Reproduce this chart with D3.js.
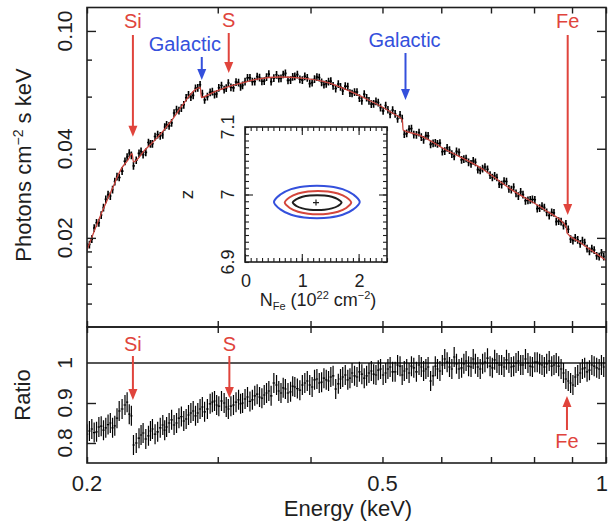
<!DOCTYPE html>
<html>
<head>
<meta charset="utf-8">
<script src="https://cdn.jsdelivr.net/npm/d3@7"></script>
<style>
  html, body { margin: 0; padding: 0; background: #fff; }
  svg { display: block; font-family: "Liberation Sans", Arial, Helvetica, sans-serif; }
</style>
</head>
<body>
<svg id="chart" width="608" height="524"></svg>
<script>
// ---------- spectrum bins (keV) ----------
const energy = [
  0.200,0.2015,0.203,0.2045,0.206,0.2075,0.209,0.2105,0.212,0.2135,
  0.215,0.2165,0.218,0.2195,0.221,0.223,0.225,0.2265,0.228,0.2295,
  0.231,0.233,0.235,0.2365,0.238,0.240,0.242,0.2435,0.245,0.247,
  0.249,0.251,0.253,0.2545,0.256,0.258,0.260,0.262,0.264,0.266,
  0.268,0.270,0.272,0.274,0.276,0.278,0.280,0.282,0.284,0.286,
  0.288,0.2905,0.293,0.295,0.297,0.299,0.301,0.3035,0.306,0.308,
  0.310,0.3125,0.315,0.3175,0.320,0.322,0.324,0.3265,0.329,0.3315,
  0.334,0.3365,0.339,0.3415,0.344,0.3465,0.349,0.3515,0.354,0.357,
  0.360,0.3625,0.365,0.3675,0.370,0.373,0.376,0.3785,0.381,0.384,
  0.387,0.390,0.393,0.396,0.399,0.402,0.405,0.408,0.411,0.414,
  0.417,0.420,0.423,0.426,0.429,0.4325,0.436,0.439,0.442,0.4455,
  0.449,0.452,0.455,0.4585,0.462,0.4655,0.469,0.4725,0.476,0.4795,
  0.483,0.4865,0.490,0.4935,0.497,0.501,0.505,0.5085,0.512,0.516,
  0.520,0.524,0.528,0.5315,0.535,0.539,0.543,0.547,0.551,0.5555,
  0.560,0.564,0.568,0.572,0.576,0.5805,0.585,0.589,0.593,0.5975,
  0.602,0.6065,0.611,0.6155,0.620,0.6245,0.629,0.634,0.639,0.6435,
  0.648,0.653,0.658,0.6625,0.667,0.672,0.677,0.682,0.687,0.6925,
  0.698,0.703,0.708,0.713,0.718,0.7235,0.729,0.7345,0.740,0.7455,
  0.751,0.7565,0.762,0.7675,0.773,0.779,0.785,0.7905,0.796,0.802,
  0.808,0.814,0.820,0.826,0.832,0.8385,0.845,0.851,0.857,0.8635,
  0.870,0.8765,0.883,0.8895,0.896,0.9025,0.909,0.916,0.923,0.9295,
  0.936,0.943,0.950,0.957,0.964,0.9715,0.979,0.986,0.993
];
// observed flux, photons cm^-2 s^-1 keV^-1
const flux = [
  0.0187,0.0190,0.0198,0.0216,0.0225,0.0225,0.0239,0.0253,0.0270,0.0280,
  0.0277,0.0291,0.0310,0.0322,0.0320,0.0336,0.0363,0.0375,0.0387,0.0380,
  0.0350,0.0366,0.0386,0.0392,0.0382,0.0389,0.0420,0.0416,0.0416,0.0440,
  0.0447,0.0442,0.0446,0.0474,0.0482,0.0478,0.0489,0.0528,0.0543,0.0538,
  0.0549,0.0563,0.0595,0.0609,0.0598,0.0606,0.0640,0.0643,0.0658,0.0614,
  0.0585,0.0600,0.0620,0.0624,0.0610,0.0613,0.0643,0.0654,0.0634,0.0641,
  0.0667,0.0645,0.0642,0.0672,0.0669,0.0648,0.0655,0.0674,0.0694,0.0695,
  0.0674,0.0675,0.0702,0.0696,0.0676,0.0677,0.0699,0.0715,0.0674,0.0693,
  0.0711,0.0691,0.0692,0.0713,0.0719,0.0681,0.0683,0.0700,0.0703,0.0712,
  0.0687,0.0682,0.0703,0.0694,0.0664,0.0669,0.0688,0.0699,0.0696,0.0671,
  0.0659,0.0663,0.0675,0.0677,0.0653,0.0639,0.0662,0.0648,0.0627,0.0651,
  0.0649,0.0617,0.0615,0.0622,0.0622,0.0593,0.0581,0.0612,0.0595,0.0581,
  0.0566,0.0567,0.0578,0.0573,0.0551,0.0537,0.0560,0.0542,0.0523,0.0540,
  0.0525,0.0505,0.0521,0.0506,0.0448,0.0451,0.0466,0.0468,0.0447,0.0446,
  0.0454,0.0438,0.0429,0.0443,0.0442,0.0414,0.0417,0.0419,0.0416,0.0418,
  0.0391,0.0393,0.0403,0.0396,0.0384,0.0377,0.0392,0.0389,0.0367,0.0369,
  0.0371,0.0360,0.0356,0.0364,0.0360,0.0340,0.0338,0.0343,0.0347,0.0341,
  0.0326,0.0320,0.0324,0.0320,0.0304,0.0303,0.0311,0.0310,0.0293,0.0291,
  0.0297,0.0283,0.0277,0.0286,0.0280,0.0267,0.0268,0.0269,0.0270,0.0269,
  0.0251,0.0252,0.0256,0.0253,0.0244,0.0238,0.0244,0.0243,0.0227,0.0228,
  0.0227,0.0220,0.0223,0.0214,0.0198,0.0196,0.0200,0.0197,0.0191,0.0196,
  0.0193,0.0184,0.0180,0.0184,0.0182,0.0174,0.0173,0.0178,0.0173
];
const fluxErrFrac = 0.03;
// data / continuum ratio
const ratio = [
  0.822,0.830,0.835,0.826,0.828,0.840,0.842,0.832,0.838,0.846,
  0.850,0.838,0.843,0.862,0.880,0.885,0.895,0.902,0.872,0.868,
  0.795,0.800,0.812,0.820,0.825,0.810,0.818,0.830,0.835,0.822,
  0.828,0.838,0.845,0.832,0.840,0.850,0.858,0.845,0.850,0.862,
  0.866,0.855,0.860,0.870,0.875,0.880,0.868,0.875,0.885,0.890,
  0.878,0.885,0.898,0.902,0.905,0.895,0.892,0.905,0.900,0.890,
  0.885,0.892,0.895,0.902,0.908,0.898,0.900,0.910,0.915,0.904,
  0.908,0.918,0.922,0.915,0.912,0.920,0.925,0.930,0.918,0.950,
  0.945,0.930,0.925,0.938,0.935,0.925,0.928,0.942,0.940,0.936,
  0.932,0.945,0.950,0.955,0.945,0.940,0.958,0.960,0.950,0.952,
  0.962,0.958,0.955,0.965,0.968,0.935,0.948,0.960,0.965,0.970,
  0.958,0.962,0.975,0.968,0.965,0.978,0.972,0.962,0.968,0.975,
  0.980,0.972,0.970,0.982,0.985,0.970,0.975,0.985,0.990,0.978,
  0.978,0.995,0.992,0.970,0.980,0.985,0.975,0.992,0.988,0.978,
  0.995,0.990,0.980,0.985,0.990,0.955,0.968,0.992,0.985,0.980,
  0.995,1.010,1.002,0.990,0.985,1.015,0.998,0.985,0.988,0.998,
  1.005,0.992,0.990,1.010,0.998,0.990,0.985,0.998,1.002,1.012,
  0.992,0.988,1.008,1.000,0.995,0.995,0.990,1.008,1.000,0.990,
  0.992,1.000,1.005,0.995,0.995,1.010,1.000,0.992,0.990,1.002,
  1.002,0.998,0.995,0.990,0.998,1.005,0.992,0.995,1.000,0.992,
  0.985,0.975,0.960,0.955,0.950,0.945,0.965,0.970,0.975,0.985,
  0.988,0.978,0.982,0.995,0.992,0.988,0.985,0.995,0.990
];
const ratioErr = 0.025;

// best-fit absorbed model
const modelEnergy = [0.200,0.2093,0.2159,0.2227,0.2270,0.2300,0.2310,0.2393,0.2491,0.2602,
  0.2709,0.2794,0.2842,0.2852,0.2945,0.3094,0.3231,0.3395,0.3635,0.3867,0.4243,0.4699,
  0.5156,0.5318,0.5330,0.5606,0.6094,0.6750,0.7476,0.8305,0.884,0.886,0.9198,1.000];
const modelFlux = [0.0182,0.0243,0.0290,0.0344,0.0366,0.0385,0.0361,0.0396,0.0438,0.0500,
  0.0576,0.0632,0.0645,0.0596,0.0617,0.0647,0.0667,0.0688,0.0699,0.0694,0.0667,0.0598,
  0.0528,0.0500,0.0463,0.0445,0.0396,0.0347,0.0290,0.0247,0.0218,0.0208,0.0194,0.0168];

// ---------- axes ----------
const energyTicks = [0.2,0.3,0.4,0.5,0.6,0.7,0.8,0.9,1];
const energyLabels = [0.2,0.5,1];
const fluxMinorTicks = [0.012,0.014,0.016,0.018,0.06,0.08];
const fluxMajorTicks = [0.02,0.04,0.1];
const fluxLabels = ["0.02","0.04","0.10"];
const ratioTicks = [0.8,0.9];
const ratioLabels = [0.8,0.9,1];

// ---------- line features ----------
const topFeatures = [
  {name:"Si", energy:0.2306, tip:0.0439, kind:"redshifted"},
  {name:"Galactic", energy:0.2855, tip:0.0683, kind:"galactic"},
  {name:"S", energy:0.3104, tip:0.0721, kind:"redshifted"},
  {name:"Galactic", energy:0.537, tip:0.0585, kind:"galactic"},
  {name:"Fe", energy:0.888, tip:0.0239, kind:"redshifted"}
];
const ratioFeatures = [
  {name:"Si", energy:0.2306, tip:0.9075, dir:"down"},
  {name:"S", energy:0.3110, tip:0.9125, dir:"down"},
  {name:"Fe", energy:0.886, tip:0.9175, dir:"up"}
];

// ---------- inset: N_Fe vs z confidence contours ----------
const contourBlue = [[0.51,6.989],[0.623,7.000],[0.812,7.008],[1.039,7.012],[1.265,7.013],[1.492,7.012],
  [1.718,7.008],[1.907,7.000],[2.02,6.989],[1.907,6.978],[1.718,6.970],[1.492,6.966],[1.265,6.965],
  [1.039,6.966],[0.812,6.970],[0.623,6.978]];
const contourRed = [[0.70,6.988],[0.788,6.996],[0.934,7.0015],[1.110,7.0044],[1.285,7.0053],[1.461,7.0044],
  [1.636,7.0015],[1.782,6.996],[1.87,6.988],[1.782,6.980],[1.636,6.9745],[1.461,6.9716],[1.285,6.9707],
  [1.110,6.9716],[0.934,6.9745],[0.788,6.980]];
const contourBlack = [[0.84,6.988],[0.905,6.993],[1.012,6.9966],[1.141,6.9985],[1.27,6.999],[1.399,6.9985],
  [1.528,6.9966],[1.636,6.993],[1.70,6.988],[1.636,6.983],[1.528,6.9794],[1.399,6.9775],[1.27,6.977],
  [1.141,6.9775],[1.012,6.9794],[0.905,6.983]];
const bestFit = [1.25, 6.988];
const insetXLabels = [0,1,2];
const insetYLabels = [6.9,7,7.1];

// ---------- drawing ----------
const RED = "#e0443c", BLUE = "#3450dc", INK = "#1e1e1e";
const svg = d3.select("#chart");
const L = 87, R = 606, T = 7.5, M = 327, B = 463;

const x = d3.scaleLog().domain([0.2, 1]).range([L, R]);
const yF = d3.scaleLog().domain([0.01, 0.12]).range([M, T]);
const yR = d3.scaleLinear().domain([0.75, 1.09]).range([B, M]);

const defs = svg.append("defs");
defs.append("clipPath").attr("id","clipTop").append("rect")
  .attr("x",L).attr("y",T).attr("width",R-L).attr("height",M-T);
defs.append("clipPath").attr("id","clipBot").append("rect")
  .attr("x",L).attr("y",M).attr("width",R-L).attr("height",B-M);

const n = energy.length;
const edges = energy.map((e,i) => [
  i > 0 ? Math.sqrt(energy[i-1]*e) : e / Math.sqrt(energy[1]/energy[0]),
  i < n-1 ? Math.sqrt(e*energy[i+1]) : e * Math.sqrt(energy[n-1]/energy[n-2])
]);

// top panel data with error bars
let pTop = "";
energy.forEach((e,i) => {
  const v = flux[i];
  pTop += `M${x(edges[i][0])},${yF(v)}H${x(edges[i][1])}`;
  pTop += `M${x(e)},${yF(v*(1-fluxErrFrac))}V${yF(v*(1+fluxErrFrac))}`;
});
svg.append("path").attr("clip-path","url(#clipTop)")
  .attr("d", pTop).attr("fill","none").attr("stroke","#000").attr("stroke-width",1.6);

// model curve
const modelLine = d3.line()
  .x((d,i) => x(modelEnergy[i])).y(d => yF(d))
  .curve(d3.curveMonotoneX);
svg.append("path").attr("clip-path","url(#clipTop)")
  .attr("d", modelLine(modelFlux)).attr("fill","none")
  .attr("stroke","#c9433c").attr("stroke-width",1.3);

// ratio panel
svg.append("line").attr("x1",L).attr("x2",R).attr("y1",yR(1)).attr("y2",yR(1))
  .attr("stroke",INK).attr("stroke-width",1.5);
let pBot = "";
energy.forEach((e,i) => {
  const v = ratio[i];
  pBot += `M${x(edges[i][0])},${yR(v)}H${x(edges[i][1])}`;
  pBot += `M${x(e)},${yR(v-ratioErr)}V${yR(v+ratioErr)}`;
});
svg.append("path").attr("clip-path","url(#clipBot)")
  .attr("d", pBot).attr("fill","none").attr("stroke","#000").attr("stroke-width",1.2);

// frames
[[T,M],[M,B]].forEach(([a,b]) => {
  svg.append("rect").attr("x",L).attr("y",a).attr("width",R-L).attr("height",b-a)
    .attr("fill","none").attr("stroke",INK).attr("stroke-width",1.6);
});

function styleAxis(g) {
  g.select(".domain").remove();
  g.selectAll(".tick line").attr("stroke",INK).attr("stroke-width",1.4);
  g.selectAll(".tick text").remove();
}
// energy ticks on all horizontal edges, pointing inward
svg.append("g").attr("transform",`translate(0,${T})`)
  .call(d3.axisTop(x).tickValues(energyTicks).tickSize(-6)).call(styleAxis);
svg.append("g").attr("transform",`translate(0,${M})`)
  .call(d3.axisBottom(x).tickValues(energyTicks).tickSize(-6)).call(styleAxis);
svg.append("g").attr("transform",`translate(0,${M})`)
  .call(d3.axisTop(x).tickValues(energyTicks).tickSize(-6)).call(styleAxis);
svg.append("g").attr("transform",`translate(0,${B})`)
  .call(d3.axisBottom(x).tickValues(energyTicks).tickSize(-6)).call(styleAxis);

// flux ticks
svg.append("g").attr("transform",`translate(${L},0)`)
  .call(d3.axisLeft(yF).tickValues(fluxMinorTicks).tickSize(-5)).call(styleAxis);
svg.append("g").attr("transform",`translate(${L},0)`)
  .call(d3.axisLeft(yF).tickValues(fluxMajorTicks).tickSize(-9)).call(styleAxis);
svg.append("g").attr("transform",`translate(${R},0)`)
  .call(d3.axisRight(yF).tickValues(fluxMinorTicks).tickSize(-5)).call(styleAxis);
svg.append("g").attr("transform",`translate(${R},0)`)
  .call(d3.axisRight(yF).tickValues(fluxMajorTicks).tickSize(-9)).call(styleAxis);

// ratio ticks
svg.append("g").attr("transform",`translate(${L},0)`)
  .call(d3.axisLeft(yR).tickValues(ratioTicks).tickSize(-9)).call(styleAxis);
svg.append("g").attr("transform",`translate(${R},0)`)
  .call(d3.axisRight(yR).tickValues(ratioTicks).tickSize(-9)).call(styleAxis);

// tick labels
const fmtE = d3.format("~g");
energyLabels.forEach(e => {
  const last = e === 1;
  svg.append("text").attr("x", last ? 608 : x(e)).attr("y", 491)
    .attr("text-anchor", last ? "end" : "middle")
    .attr("font-size",22).attr("fill",INK).text(fmtE(e));
});
fluxMajorTicks.forEach((v,i) => {
  svg.append("text").attr("transform",`translate(72,${yF(v)}) rotate(-90)`)
    .attr("text-anchor","middle").attr("font-size",21).attr("fill",INK).text(fluxLabels[i]);
});
ratioLabels.forEach(v => {
  svg.append("text").attr("transform",`translate(72,${yR(v)}) rotate(-90)`)
    .attr("text-anchor","middle").attr("font-size",21).attr("fill",INK).text(fmtE(v));
});

// axis titles
svg.append("text").attr("x",348).attr("y",516).attr("text-anchor","middle")
  .attr("font-size",22).attr("fill",INK).text("Energy (keV)");
const yt = svg.append("text").attr("transform","translate(31,165) rotate(-90)")
  .attr("text-anchor","middle").attr("font-size",22).attr("fill",INK);
yt.append("tspan").text("Photons cm");
yt.append("tspan").attr("dy",-8).attr("font-size",14).text("−2");
yt.append("tspan").attr("dy",8).text(" s keV");
svg.append("text").attr("transform","translate(30,395) rotate(-90)")
  .attr("text-anchor","middle").attr("font-size",22).attr("fill",INK).text("Ratio");

// arrows
function arrow(x0, yStart, yTip, color) {
  const dir = yTip > yStart ? 1 : -1;
  const hl = 11, hw = 4.5;
  svg.append("line").attr("x1",x0).attr("x2",x0).attr("y1",yStart).attr("y2",yTip - dir*hl*0.6)
    .attr("stroke",color).attr("stroke-width",2);
  svg.append("path")
    .attr("d",`M${x0},${yTip}L${x0-hw},${yTip-dir*hl}L${x0+hw},${yTip-dir*hl}Z`)
    .attr("fill",color);
}
const topLayout = [
  {ty:28, dx:0, start:35},
  {ty:51, dx:-17, start:57},
  {ty:27, dx:0, start:33},
  {ty:47, dx:-1, start:53},
  {ty:28, dx:0, start:35}
];
topFeatures.forEach((f,i) => {
  const c = f.kind === "galactic" ? BLUE : RED;
  const xp = x(f.energy), lay = topLayout[i];
  svg.append("text").attr("x", xp + lay.dx).attr("y", lay.ty).attr("text-anchor","middle")
    .attr("font-size",20).attr("fill",c).text(f.name);
  arrow(xp, lay.start, yF(f.tip), c);
});
ratioFeatures.forEach(f => {
  const xp = x(f.energy);
  if (f.dir === "down") {
    svg.append("text").attr("x", xp).attr("y", 351).attr("text-anchor","middle")
      .attr("font-size",20).attr("fill",RED).text(f.name);
    arrow(xp, 356, yR(f.tip), RED);
  } else {
    svg.append("text").attr("x", xp).attr("y", 448).attr("text-anchor","middle")
      .attr("font-size",20).attr("fill",RED).text(f.name);
    arrow(xp, 430, yR(f.tip), RED);
  }
});

// ---------- inset ----------
const IL = 245, IR = 387, IT = 127, IB = 262;
const xN = d3.scaleLinear().domain([0, 2.5]).range([IL, IR]);
const yZ = d3.scaleLinear().domain([6.9, 7.1]).range([IB, IT]);
const inset = svg.append("g");
inset.append("rect").attr("x",IL).attr("y",IT).attr("width",IR-IL).attr("height",IB-IT)
  .attr("fill","#fff");
const cLine = d3.line().x(d => xN(d[0])).y(d => yZ(d[1])).curve(d3.curveCatmullRomClosed.alpha(0.5));
[[contourBlue,BLUE],[contourRed,"#d4463c"],[contourBlack,INK]].forEach(([c,col]) => {
  inset.append("path").attr("d", cLine(c)).attr("fill","none").attr("stroke",col).attr("stroke-width",2);
});
const bx = xN(bestFit[0]), by = yZ(bestFit[1]);
inset.append("path").attr("d",`M${bx-3},${by}H${bx+3}M${bx},${by-3}V${by+3}`)
  .attr("stroke",INK).attr("stroke-width",1.2);

function styleInset(g) {
  g.select(".domain").remove();
  g.selectAll(".tick line").attr("stroke",INK).attr("stroke-width",1.1);
  g.selectAll(".tick text").remove();
}
const xMinor = xN.ticks(25), yMinor = yZ.ticks(20);
inset.append("g").attr("transform",`translate(0,${IB})`)
  .call(d3.axisBottom(xN).tickValues(xMinor).tickSize(-4)).call(styleInset);
inset.append("g").attr("transform",`translate(0,${IT})`)
  .call(d3.axisTop(xN).tickValues(xMinor).tickSize(-4)).call(styleInset);
inset.append("g").attr("transform",`translate(0,${IB})`)
  .call(d3.axisBottom(xN).tickValues(insetXLabels).tickSize(-8)).call(styleInset);
inset.append("g").attr("transform",`translate(0,${IT})`)
  .call(d3.axisTop(xN).tickValues(insetXLabels).tickSize(-8)).call(styleInset);
inset.append("g").attr("transform",`translate(${IL},0)`)
  .call(d3.axisLeft(yZ).tickValues(yMinor).tickSize(-4)).call(styleInset);
inset.append("g").attr("transform",`translate(${IR},0)`)
  .call(d3.axisRight(yZ).tickValues(yMinor).tickSize(-4)).call(styleInset);
inset.append("g").attr("transform",`translate(${IL},0)`)
  .call(d3.axisLeft(yZ).tickValues([7]).tickSize(-8)).call(styleInset);
inset.append("g").attr("transform",`translate(${IR},0)`)
  .call(d3.axisRight(yZ).tickValues([7]).tickSize(-8)).call(styleInset);
inset.append("rect").attr("x",IL).attr("y",IT).attr("width",IR-IL).attr("height",IB-IT)
  .attr("fill","none").attr("stroke",INK).attr("stroke-width",1.6);

insetXLabels.forEach(v => {
  inset.append("text").attr("x", xN(v)+1).attr("y", 287).attr("text-anchor","middle")
    .attr("font-size",18).attr("fill",INK).text(v);
});
insetYLabels.forEach(v => {
  inset.append("text").attr("transform",`translate(234,${yZ(v)}) rotate(-90)`)
    .attr("text-anchor","middle").attr("font-size",18).attr("fill",INK).text(fmtE(v));
});
inset.append("text").attr("transform",`translate(193,${yZ(7)}) rotate(-90)`)
  .attr("text-anchor","middle").attr("font-size",19).attr("fill",INK).text("z");
const nt = inset.append("text").attr("x",318).attr("y",306).attr("text-anchor","middle")
  .attr("font-size",18).attr("fill",INK);
nt.append("tspan").text("N");
nt.append("tspan").attr("dy",4).attr("font-size",11).text("Fe");
nt.append("tspan").attr("dy",-4).text(" (10");
nt.append("tspan").attr("dy",-7).attr("font-size",11).text("22");
nt.append("tspan").attr("dy",7).text(" cm");
nt.append("tspan").attr("dy",-7).attr("font-size",11).text("−2");
nt.append("tspan").attr("dy",7).text(")");
</script>
</body>
</html>
